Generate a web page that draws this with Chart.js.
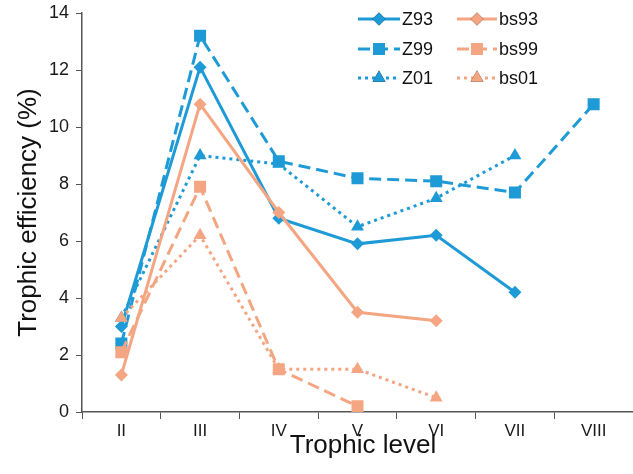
<!DOCTYPE html>
<html>
<head>
<meta charset="utf-8">
<script src="https://cdn.jsdelivr.net/npm/chart.js@4.4.1/dist/chart.umd.min.js"></script>
<style>
html,body{margin:0;padding:0;background:#fff;}
#wrap{width:633px;height:474px;position:relative;}
</style>
</head>
<body>
<div id="wrap"><canvas id="c" width="633" height="474"></canvas></div>
<script>
const categories = ['II','III','IV','V','VI','VII','VIII'];
const Z93  = [3.0, 12.1, 6.8, 5.9, 6.2, 4.2, null];
const Z99  = [2.4, 13.2, 8.8, 8.2, 8.1, 7.7, 10.8];
const Z01  = [3.3, 9.0, 8.7, 6.5, 7.5, 9.0, null];
const bs93 = [1.3, 10.8, 7.0, 3.5, 3.2, null, null];
const bs99 = [2.1, 7.9, 1.5, 0.2, null, null, null];
const bs01 = [3.3, 6.2, 1.5, 1.5, 0.5, null, null];
const yTicks = [0, 2, 4, 6, 8, 10, 12, 14];
const xTitle = 'Trophic level';
const yTitle = 'Trophic efficiency (%)';

const BLUE = '#1e9ad6';
const ORANGE = '#f4a582';
const AXIS = '#555555';
const FONT = "'Liberation Sans', Arial, Helvetica, sans-serif";

function ds(label, data, color, dash, style, radius, order) {
  return {
    label, data,
    borderColor: color, backgroundColor: color,
    pointBackgroundColor: color, pointBorderColor: color,
    borderWidth: 3, borderDash: dash,
    pointStyle: style, pointRadius: radius, pointHoverRadius: radius,
    pointBorderWidth: 0,
    tension: 0, fill: false, spanGaps: false, order
  };
}

const datasets = [
  ds('Z93', Z93, BLUE, [], 'rectRot', 6.5, 2),
  ds('Z99', Z99, BLUE, [12, 6], 'rect', 8.5, 2),
  ds('Z01', Z01, BLUE, [3, 4], 'triangle', 7.5, 2),
  ds('bs93', bs93, ORANGE, [], 'rectRot', 6.5, 1),
  ds('bs99', bs99, ORANGE, [12, 6], 'rect', 8.5, 1),
  ds('bs01', bs01, ORANGE, [3, 4], 'triangle', 7.5, 1)
];

const legendPlugin = {
  id: 'customLegend',
  afterDraw(chart) {
    const ctx = chart.ctx;
    const cols = [{x0: 358, x1: 400, tx: 402}, {x0: 457, x1: 497, tx: 499}];
    const rows = [19, 49, 78];
    const layout = [[0, 0, 0], [1, 0, 1], [2, 0, 2], [3, 1, 0], [4, 1, 1], [5, 1, 2]];
    ctx.save();
    layout.forEach(([di, ci, ri]) => {
      const d = chart.data.datasets[di];
      const c = cols[ci], y = rows[ri];
      ctx.strokeStyle = d.borderColor;
      ctx.lineWidth = d.borderWidth;
      ctx.setLineDash(d.borderDash);
      ctx.beginPath();
      ctx.moveTo(c.x0, y);
      ctx.lineTo(c.x1, y);
      ctx.stroke();
      ctx.setLineDash([]);
      Chart.helpers.drawPoint(ctx, {pointStyle: d.pointStyle, radius: d.pointRadius, borderWidth: 0, rotation: 0}, (c.x0 + c.x1) / 2, y);
      ctx.fillStyle = d.backgroundColor;
      ctx.fill();
      ctx.fillStyle = '#111';
      ctx.font = '18px ' + FONT;
      ctx.textBaseline = 'middle';
      ctx.textAlign = 'left';
      ctx.fillText(d.label, c.tx, y + 1);
    });
    ctx.fillStyle = '#111';
    ctx.font = '26px ' + FONT;
    ctx.textAlign = 'center';
    ctx.textBaseline = 'alphabetic';
    ctx.fillText(xTitle, 363, 453);
    ctx.restore();
  }
};

new Chart(document.getElementById('c'), {
  type: 'line',
  data: { labels: categories, datasets },
  options: {
    responsive: false,
    animation: false,
    devicePixelRatio: 1,
    layout: { autoPadding: false, padding: { top: 13, right: 0, bottom: 0, left: 0 } },
    plugins: { legend: { display: false }, tooltip: { enabled: false } },
    scales: {
      x: {
        type: 'category',
        offset: true,
        grid: { display: true, drawOnChartArea: false, drawTicks: true, tickLength: 7, color: AXIS, offset: true },
        border: { display: true, color: AXIS, width: 1.5 },
        ticks: { color: '#1a1a1a', font: { family: FONT, size: 17 }, padding: 2, maxRotation: 0 },
        title: { display: false },
        afterFit(s) { s.height = 62; s.paddingLeft = 0; s.paddingRight = 0; }
      },
      y: {
        min: 0, max: 14,
        afterBuildTicks(s) { s.ticks = yTicks.map(v => ({ value: v })); },
        grid: { display: true, drawOnChartArea: false, drawTicks: true, tickLength: 6, color: AXIS },
        border: { display: true, color: AXIS, width: 1.5 },
        ticks: { color: '#1a1a1a', font: { family: FONT, size: 18 }, padding: 7 },
        title: { display: true, text: yTitle, color: '#111', font: { family: FONT, size: 26 }, padding: { top: 13, bottom: 0 } },
        afterFit(s) { s.width = 82; s.paddingTop = 0; s.paddingBottom = 0; }
      }
    }
  },
  plugins: [legendPlugin]
});
</script>
</body>
</html>
